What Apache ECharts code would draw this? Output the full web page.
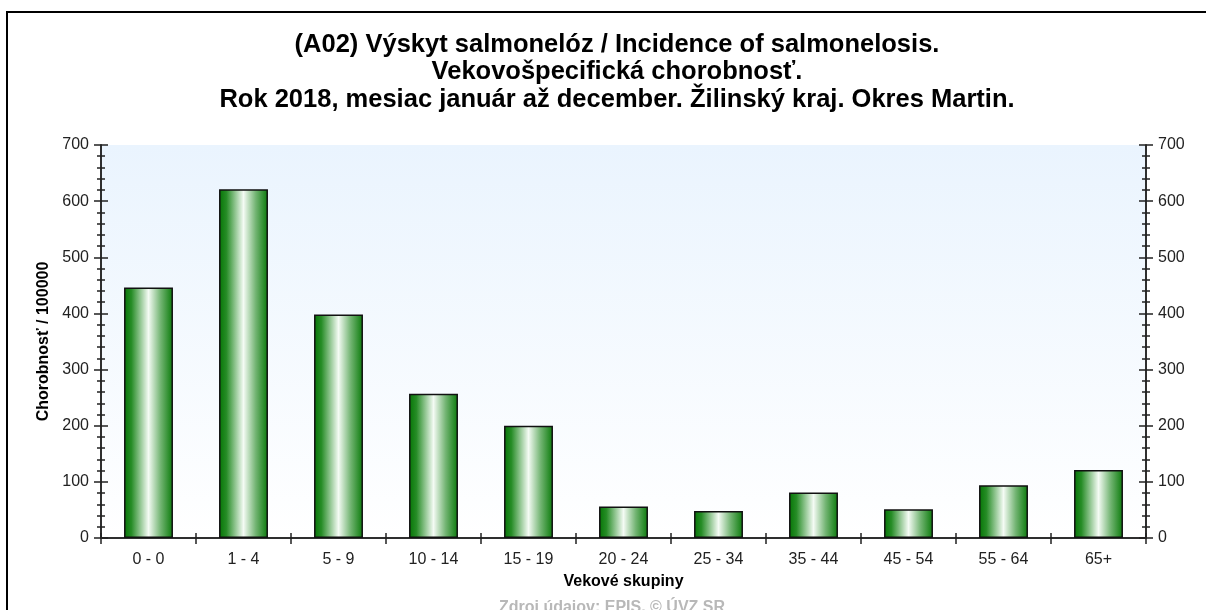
<!DOCTYPE html>
<html>
<head>
<meta charset="utf-8">
<script src="https://cdn.jsdelivr.net/npm/echarts@6/dist/echarts.min.js"></script>
<style>
	html, body { margin: 0; padding: 0; background: #fff; }
	#chart { width: 1206px; height: 610px; }
</style>
</head>
<body>
<div id="chart"></div>
<script>
// age groups and incidence per 100000
const categories = ["0 - 0", "1 - 4", "5 - 9", "10 - 14", "15 - 19", "20 - 24", "25 - 34", "35 - 44", "45 - 54", "55 - 64", "65+"];
const incidence = [446, 621, 398, 257, 200, 56, 48, 81, 51, 94, 121];
const yMin = 0;
const yMax = 700;
const yStep = 100;

const titleLines = [
	"(A02) Výskyt salmonelóz / Incidence of salmonelosis.",
	"Vekovošpecifická chorobnosť.",
	"Rok 2018, mesiac január až december. Žilinský kraj. Okres Martin."
];
const xName = "Vekové skupiny";
const yName = "Chorobnosť / 100000";
const sourceText = "Zdroj údajov: EPIS, © ÚVZ SR";

const font = "Liberation Sans, Arial, sans-serif";
const axisColor = "#222";

const chart = echarts.init(document.getElementById("chart"));

function valueAxis(position, inside, showLabel, name) {
	return {
		type: "value",
		position: position,
		min: yMin,
		max: yMax,
		interval: yStep,
		name: name || "",
		nameLocation: "middle",
		nameGap: 46,
		nameTextStyle: { fontFamily: font, fontSize: 16, fontWeight: "bold", color: "#000" },
		axisLine: { show: true, lineStyle: { color: axisColor, width: 1.5 } },
		axisTick: { show: true, inside: inside, length: 7, lineStyle: { color: axisColor, width: 1.5 } },
		minorTick: { show: true, splitNumber: 5, length: 4, lineStyle: { color: axisColor, width: 1.5 } },
		axisLabel: { show: showLabel, fontFamily: font, fontSize: 16, color: "#222", margin: 12 },
		splitLine: { show: false }
	};
}

chart.setOption({
	animation: false,
	graphic: [
		{
			type: "rect",
			shape: { x: 7, y: 12, width: 1230, height: 640 },
			style: { fill: "none", stroke: "#000", lineWidth: 2 },
			silent: true
		},
		{
			type: "text",
			x: 617,
			y: 31,
			style: {
				text: titleLines.join("\n"),
				align: "center",
				verticalAlign: "top",
				font: "bold 25.5px " + font,
				lineHeight: 27.5,
				fill: "#000"
			}
		},
		{
			type: "text",
			x: 612,
			y: 600,
			style: {
				text: sourceText,
				align: "center",
				verticalAlign: "top",
				font: "bold 16px " + font,
				fill: "#b8b8b8"
			}
		}
	],
	grid: {
		left: 101,
		right: 60,
		top: 145,
		bottom: 72,
		show: true,
		borderWidth: 0,
		backgroundColor: new echarts.graphic.LinearGradient(0, 0, 0, 1, [
			{ offset: 0, color: "#eaf4fe" },
			{ offset: 1, color: "#ffffff" }
		])
	},
	xAxis: [
		{
			type: "category",
			data: categories,
			position: "bottom",
			name: xName,
			nameLocation: "middle",
			nameGap: 36,
			nameTextStyle: { fontFamily: font, fontSize: 16, fontWeight: "bold", color: "#000" },
			axisLine: { lineStyle: { color: axisColor, width: 1.5 } },
			axisTick: { show: true, length: 6, lineStyle: { color: axisColor, width: 1.5 } },
			axisLabel: { fontFamily: font, fontSize: 16, color: "#222", margin: 14, interval: 0 }
		},
		{
			type: "category",
			data: categories,
			position: "top",
			axisLine: { show: true, lineStyle: { color: axisColor, width: 1.5 } },
			axisTick: { show: true, length: 5, lineStyle: { color: axisColor, width: 1.5 } },
			axisLabel: { show: false }
		}
	],
	yAxis: [
		valueAxis("left", false, true, yName),
		valueAxis("left", true, false),
		valueAxis("right", false, true),
		valueAxis("right", true, false)
	],
	series: [
		{
			type: "bar",
			data: incidence,
			barWidth: "51.5%",
			itemStyle: {
				color: new echarts.graphic.LinearGradient(0, 0, 1, 0, [
					{ offset: 0, color: "#057505" },
					{ offset: 0.15, color: "#268c26" },
					{ offset: 0.5, color: "#f4fbf4" },
					{ offset: 0.75, color: "#72b472" },
					{ offset: 1, color: "#0a7a0a" }
				]),
				borderColor: "#111",
				borderWidth: 1.5
			}
		}
	]
});
</script>
</body>
</html>
